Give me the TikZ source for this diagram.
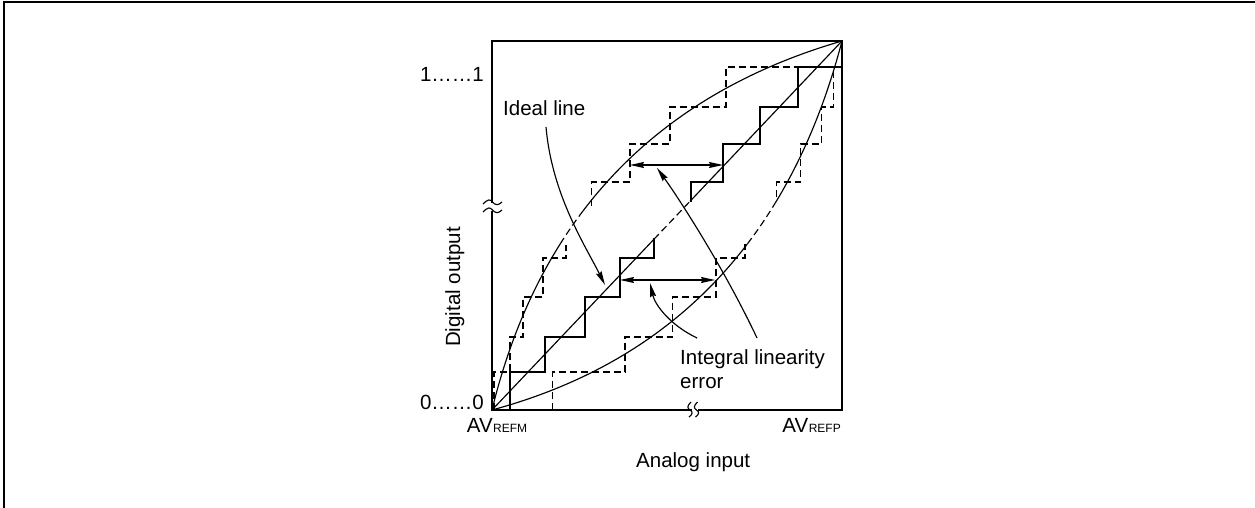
\documentclass[tikz,border=0pt]{standalone}
\usepackage{fontspec}
\setmainfont{Liberation Sans}
\usetikzlibrary{arrows.meta}
\begin{document}
\begin{tikzpicture}[x=1pt,y=-1pt,
  ln/.style={line width=1.15pt},
  dsh/.style={line width=1.15pt, dash pattern=on 7pt off 4pt},
  arr/.style={line width=1.15pt, -{Stealth[length=14pt,width=6pt,inset=1.5pt]}},
  darr/.style={line width=1.15pt, {Stealth[length=14pt,width=6pt,inset=1.5pt]}-{Stealth[length=14pt,width=6pt,inset=1.5pt]}},
  lbl/.style={inner sep=0pt, font=\fontsize{20.5}{24}\selectfont}]
\useasboundingbox (0,0) rectangle (1255,508);
% outer frame (top and left only)
\draw[line width=2pt] (3.5,508) -- (3.5,2) -- (1255,2);
% plot box with axis breaks
\coordinate (O) at (492,410);
\coordinate (TR) at (842,41);
\draw[ln] (492,203) -- (492,41) -- (842,41) -- (842,410) -- (698,410);
\draw[ln] (692,410) -- (O) -- (492,211);
% y-axis break marks
\draw[ln] (483,204) .. controls (488,199) and (490,199) .. (492.5,202) .. controls (495,205) and (498,206) .. (502,202);
\draw[ln] (483,212) .. controls (488,207) and (490,207) .. (492.5,210) .. controls (495,213) and (498,214) .. (502,210);
% x-axis break marks
\draw[ln] (691,402) .. controls (687,406) and (687,408) .. (690,410) .. controls (693,412) and (693,414) .. (689,417);
\draw[ln] (697.5,402) .. controls (693.5,406) and (693.5,408) .. (696.5,410) .. controls (699.5,412) and (699.5,414) .. (695.5,417);
% ideal line
\draw[ln] (O) -- (654,239.2);
\draw[dsh] (654,239.2) -- (690,201.3);
\draw[ln] (690,201.3) -- (TR);
% ideal staircase
\draw[ln] (510,410) -- (510,372) -- (545,372) -- (545,337) -- (585,337) -- (585,297) -- (620,297) -- (620,258) -- (654,258) -- (654,238);
\draw[ln] (691,202) -- (691,182) -- (723,182) -- (723,144) -- (760,144) -- (760,107) -- (798,107) -- (798,67) -- (842,67);
% upper dashed staircase
\draw[dsh] (494,410) -- (494,372) -- (510,372) -- (510,337) -- (523,337) -- (523,297) -- (543,297) -- (543,258) -- (566,258) -- (566,245);
\draw[dsh] (591.7,206) -- (591.7,182) -- (630,182) -- (630,144) -- (670,144) -- (670,107) -- (726,107) -- (726,67) -- (798,67);
% lower dashed staircase
\draw[dsh] (552.7,410) -- (552.7,372) -- (625,372) -- (625,337) -- (672.7,337) -- (672.7,297) -- (716,297) -- (716,258) -- (745,258) -- (745,244);
\draw[dsh] (776.7,197) -- (776.7,182) -- (800.7,182) -- (800.7,144) -- (821.7,144) -- (821.7,107) -- (833.3,107) -- (833.3,67);
% upper curve
\draw[ln] plot[domain=0:0.327, samples=40, variable=\t] ({(1-\t)^2*492+2*\t*(1-\t)*562+\t^2*842},{(1-\t)^2*410+2*\t*(1-\t)*122.2+\t^2*41});
\draw[dsh] plot[domain=0.327:0.405, samples=15, variable=\t] ({(1-\t)^2*492+2*\t*(1-\t)*562+\t^2*842},{(1-\t)^2*410+2*\t*(1-\t)*122.2+\t^2*41});
\draw[ln] plot[domain=0.405:1, samples=50, variable=\t] ({(1-\t)^2*492+2*\t*(1-\t)*562+\t^2*842},{(1-\t)^2*410+2*\t*(1-\t)*122.2+\t^2*41});
% lower curve
\draw[ln] plot[domain=0:0.595, samples=50, variable=\t] ({(1-\t)^2*492+2*\t*(1-\t)*765+\t^2*842},{(1-\t)^2*410+2*\t*(1-\t)*336.2+\t^2*41});
\draw[dsh] plot[domain=0.595:0.689, samples=15, variable=\t] ({(1-\t)^2*492+2*\t*(1-\t)*765+\t^2*842},{(1-\t)^2*410+2*\t*(1-\t)*336.2+\t^2*41});
\draw[ln] plot[domain=0.689:1, samples=40, variable=\t] ({(1-\t)^2*492+2*\t*(1-\t)*765+\t^2*842},{(1-\t)^2*410+2*\t*(1-\t)*336.2+\t^2*41});
% labels
\node[lbl, anchor=base east] (one) at (484,82) {1……1};
\node[lbl, anchor=base east] (zero) at (484,409) {0……0};
\node[lbl, anchor=base, rotate=90] (dout) at (460,287) {Digital output};
\node[lbl, anchor=base] (avm) at (497,432) {AV\kern0.5pt{\fontsize{12}{12}\selectfont REFM}};
\node[lbl, anchor=base east] (avp) at (841,432) {AV\kern0.5pt{\fontsize{12}{12}\selectfont REFP}};
\node[lbl, anchor=base west] (ain) at (636,467) {Analog input};
\node[lbl, anchor=base west] (ideal) at (503,116) {Ideal line};
\node[lbl, anchor=base west, align=left] (ile) at (680,388) {Integral linearity\\error};
% double arrows
\coordinate (ua1) at (630,165);
\coordinate (ua2) at (723,165);
\coordinate (la1) at (620,280);
\coordinate (la2) at (715,280);
\draw[darr] (ua1) -- (ua2);
\draw[darr] (la1) -- (la2);
% pointer arrows
\coordinate (ids) at (546,127);
\coordinate (idt) at (605,285);
\draw[arr] (ids) .. controls (552,195) and (585,245) .. (idt);
\coordinate (e1s) at (697,338);
\coordinate (e1t) at (650,283);
\draw[arr] (e1s) .. controls (670,325) and (655,305) .. (e1t);
\coordinate (e2s) at (757,338);
\coordinate (e2t) at (657,168);
\draw[arr] (e2s) .. controls (725,270) and (680,200) .. (e2t);
\end{tikzpicture}
\end{document}
